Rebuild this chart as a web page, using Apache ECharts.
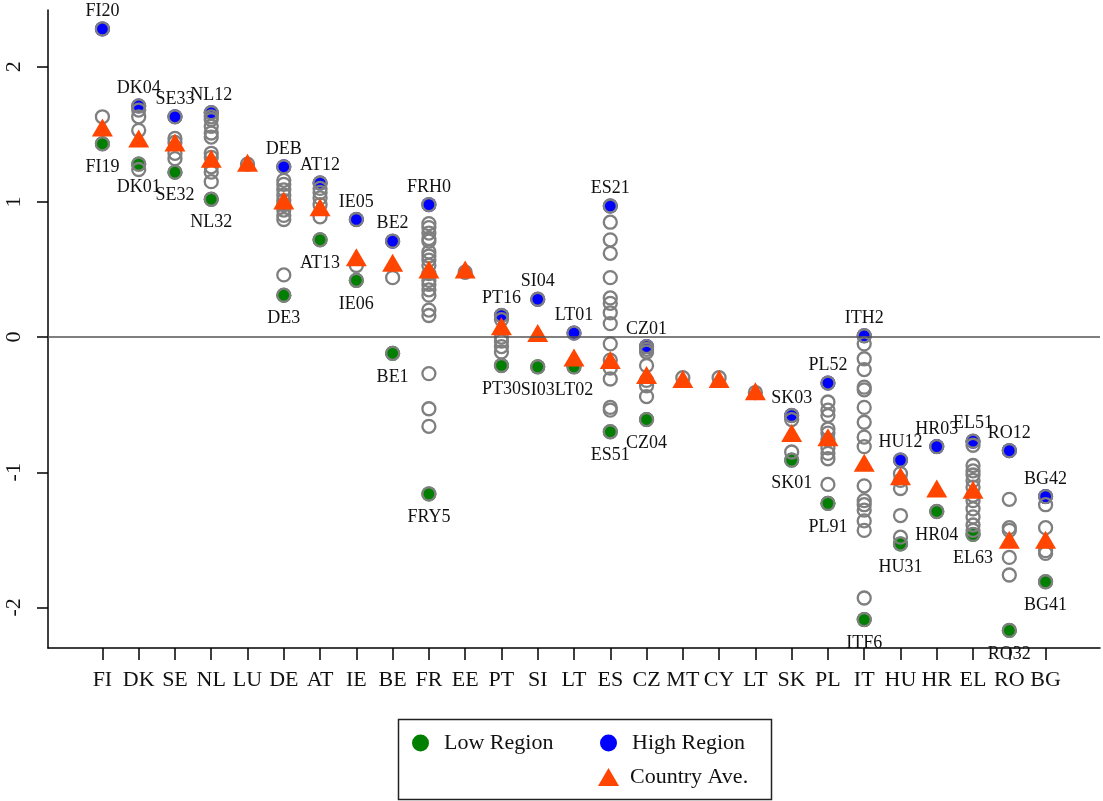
<!DOCTYPE html>
<html>
<head>
<meta charset="utf-8">
<script src="https://cdn.jsdelivr.net/npm/echarts@6/dist/echarts.min.js"></script>
<style>html,body{margin:0;padding:0;background:#fff;}#c{width:1103px;height:801px;}</style>
</head>
<body>
<div id="c"></div>
<script>
const countries = ['FI','DK','SE','NL','LU','DE','AT','IE','BE','FR','EE','PT','SI','LT','ES','CZ','MT','CY','LT','SK','PL','IT','HU','HR','EL','RO','BG'];
const countryAve = [1.55,1.47,1.44,1.32,1.29,1.01,0.96,0.59,0.55,0.50,0.50,0.08,0.03,-0.15,-0.17,-0.28,-0.31,-0.31,-0.40,-0.71,-0.74,-0.93,-1.03,-1.12,-1.13,-1.50,-1.50];
const regionValues = [
  [2.28,1.63,1.43],
  [1.71,1.68,1.63,1.53,1.28,1.24],
  [1.63,1.47,1.44,1.36,1.32,1.22],
  [1.66,1.63,1.61,1.56,1.51,1.48,1.36,1.33,1.26,1.22,1.15,1.02],
  [1.28],
  [1.26,1.16,1.13,1.09,1.05,1.01,0.98,0.94,0.90,0.87,0.46,0.31],
  [1.14,1.10,1.07,1.03,0.98,0.89,0.72],
  [0.87,0.53,0.42],
  [0.71,0.44,-0.12],
  [0.98,0.84,0.81,0.77,0.73,0.71,0.63,0.60,0.57,0.53,0.47,0.42,0.39,0.35,0.31,0.20,0.16,-0.27,-0.53,-0.66,-1.16],
  [0.48],
  [0.16,0.13,0.00,-0.03,-0.07,-0.11,-0.21],
  [0.28,-0.22],
  [0.03,-0.22],
  [0.97,0.85,0.72,0.62,0.44,0.29,0.25,0.18,0.10,-0.05,-0.17,-0.23,-0.31,-0.52,-0.54,-0.70],
  [-0.07,-0.09,-0.11,-0.21,-0.32,-0.36,-0.44,-0.61],
  [-0.30],
  [-0.30],
  [-0.41],
  [-0.58,-0.61,-0.85,-0.91],
  [-0.34,-0.48,-0.54,-0.58,-0.68,-0.71,-0.76,-0.82,-0.86,-0.90,-1.09,-1.23],
  [0.01,-0.05,-0.16,-0.24,-0.37,-0.39,-0.52,-0.63,-0.74,-0.81,-1.10,-1.21,-1.24,-1.28,-1.36,-1.43,-1.93,-2.09],
  [-0.91,-1.01,-1.06,-1.12,-1.32,-1.48,-1.53],
  [-0.81,-1.29],
  [-0.77,-0.80,-0.95,-0.99,-1.02,-1.06,-1.11,-1.17,-1.21,-1.27,-1.33,-1.39,-1.43,-1.46],
  [-0.84,-1.20,-1.41,-1.43,-1.63,-1.76,-2.17],
  [-1.18,-1.24,-1.41,-1.58,-1.60,-1.81]
];
const highValues = [2.28,1.71,1.63,1.66,null,1.26,1.14,0.87,0.71,0.98,null,0.16,0.28,0.03,0.97,-0.07,null,null,null,-0.58,-0.34,0.01,-0.91,-0.81,-0.77,-0.84,-1.18];
const highLabels = ['FI20','DK04','SE33','NL12','','DEB','AT12','IE05','BE2','FRH0','','PT16','SI04','LT01','ES21','CZ01','','','','SK03','PL52','ITH2','HU12','HR03','EL51','RO12','BG42'];
const lowValues = [1.43,1.28,1.22,1.02,null,0.31,0.72,0.42,-0.12,-1.16,null,-0.21,-0.22,-0.22,-0.70,-0.61,null,null,null,-0.91,-1.23,-2.09,-1.53,-1.29,-1.46,-2.17,-1.81];
const lowLabels = ['FI19','DK01','SE32','NL32','','DE3','AT13','IE06','BE1','FRY5','','PT30','SI03','LT02','ES51','CZ04','','','','SK01','PL91','ITF6','HU31','HR04','EL63','RO32','BG41'];
const yTicks = [-2,-1,0,1,2];

const FONT = '"Liberation Serif", "DejaVu Serif", serif';
const xIdx = countries.map((c,i)=>i+1);

const grayData = [];
regionValues.forEach((arr,i)=>arr.forEach(v=>grayData.push([i+1,v])));
const highData = [], lowData = [];
highValues.forEach((v,i)=>{ if(v!==null) highData.push({value:[i+1,v], name:highLabels[i]}); });
lowValues.forEach((v,i)=>{ if(v!==null) lowData.push({value:[i+1,v], name:lowLabels[i]}); });
const aveData = countryAve.map((v,i)=>[i+1,v]);

const chart = echarts.init(document.getElementById('c'), null, {renderer:'canvas'});
chart.setOption({
  animation:false,
  backgroundColor:'#fff',
  textStyle:{fontFamily:FONT},
  grid:{left:48,right:3,top:10,bottom:153,containLabel:false},
  xAxis:{
    type:'value',min:-0.5,max:28.5,
    axisLine:{show:true,onZero:false,lineStyle:{color:'#000',width:1.5}},
    axisTick:{show:true,length:12,customValues:xIdx,lineStyle:{color:'#000',width:1.5}},
    axisLabel:{show:true,customValues:xIdx,margin:21,fontSize:22,color:'#111',fontFamily:FONT,
      formatter:v=>countries[Math.round(v)-1]||''},
    splitLine:{show:false}
  },
  yAxis:{
    type:'value',min:-2.3,max:2.42,
    axisLine:{show:true,onZero:false,lineStyle:{color:'#000',width:1.5}},
    axisTick:{show:true,length:11,customValues:yTicks,lineStyle:{color:'#000',width:1.5}},
    axisLabel:{show:true,customValues:yTicks,rotate:90,margin:23,fontSize:22,color:'#111',fontFamily:FONT},
    splitLine:{show:false}
  },
  legend:[
    {data:[{name:'Low Region',icon:'circle'}],left:407,top:727,itemWidth:17,itemHeight:17,
      textStyle:{fontSize:22,fontFamily:FONT,color:'#111',padding:[0,0,0,10]}},
    {data:[{name:'High Region',icon:'circle'}],left:595,top:727,itemWidth:17,itemHeight:17,
      textStyle:{fontSize:22,fontFamily:FONT,color:'#111',padding:[0,0,0,10]}},
    {data:[{name:'Country Ave.',icon:'triangle'}],left:593,top:761,itemWidth:21,itemHeight:18,
      textStyle:{fontSize:22,fontFamily:FONT,color:'#111',padding:[0,0,0,6]}}
  ],
  graphic:[{type:'rect',left:396,top:717,shape:{width:373,height:80},
    style:{fill:'none',stroke:'#222',lineWidth:1.5},z:-1}],
  series:[
    {name:'Low Region',type:'scatter',data:lowData,symbol:'circle',symbolSize:15,z:2,
      itemStyle:{color:'#007f00',opacity:1},
      label:{show:true,position:'bottom',distance:7,formatter:'{b}',fontSize:18,fontFamily:FONT,color:'#111'}},
    {name:'High Region',type:'scatter',data:highData,symbol:'circle',symbolSize:15,z:2,
      itemStyle:{color:'#0000ff',opacity:1},
      label:{show:true,position:'top',distance:1,formatter:'{b}',fontSize:18,fontFamily:FONT,color:'#111'}},
    {name:'Region',type:'scatter',data:grayData,symbol:'circle',symbolSize:13,z:3,
      itemStyle:{color:'rgba(255,255,255,0)',borderColor:'#7f7f7f',borderWidth:2.3,opacity:1},
      markLine:{silent:true,symbol:['none','none'],label:{show:false},
        lineStyle:{color:'#555',width:1.5,type:'solid'},data:[{yAxis:0}]}},
    {name:'Country Ave.',type:'scatter',data:aveData,symbol:'triangle',symbolSize:[21,18],z:4,
      itemStyle:{color:'#ff4500',opacity:1}}
  ]
});
</script>
</body>
</html>
